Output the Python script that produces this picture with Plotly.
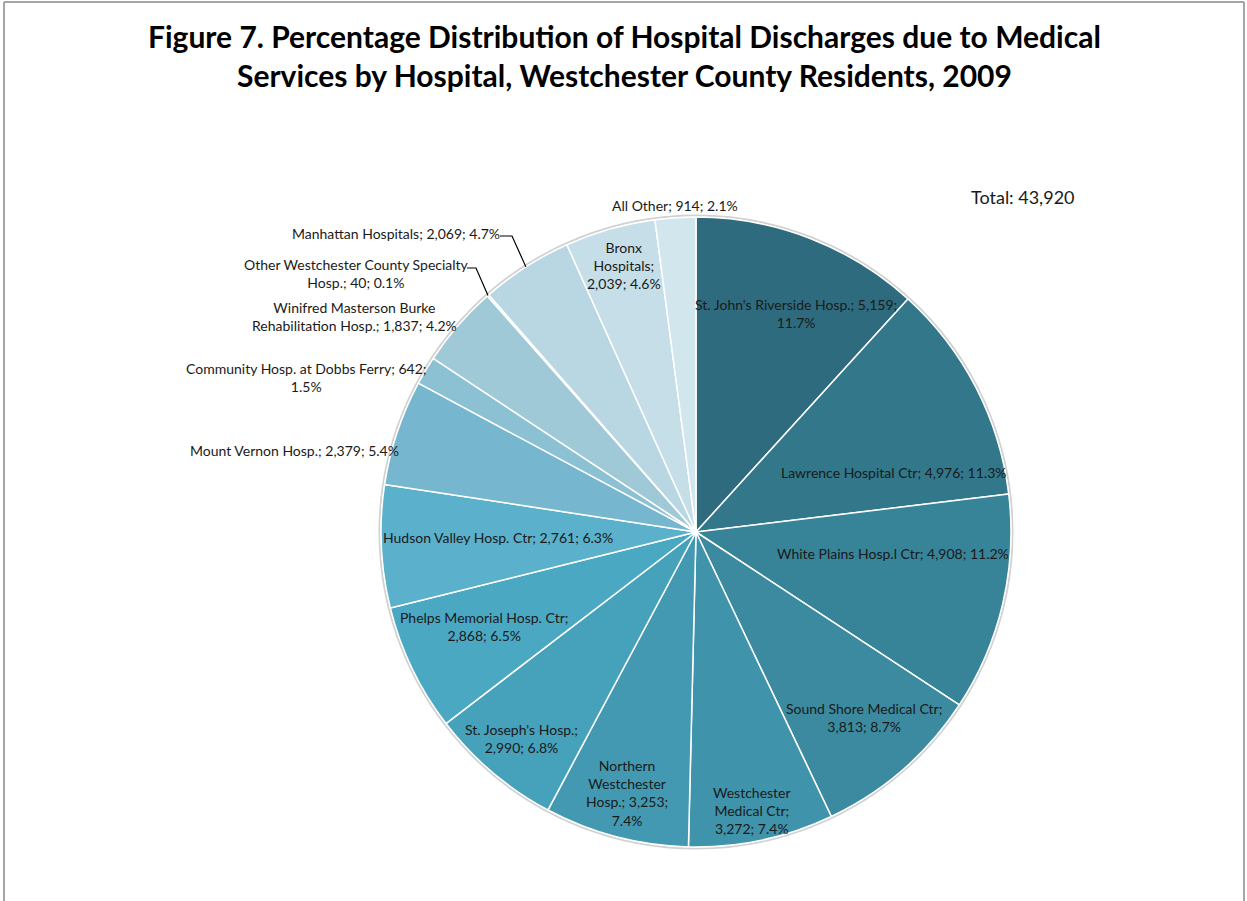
import math
import plotly.graph_objects as go

# ---------------- data ----------------
hospitals = [
    "St. John's Riverside Hosp.", "Lawrence Hospital Ctr", "White Plains Hosp.l Ctr",
    "Sound Shore Medical Ctr", "Westchester Medical Ctr", "Northern Westchester Hosp.",
    "St. Joseph's Hosp.", "Phelps Memorial Hosp. Ctr", "Hudson Valley Hosp. Ctr",
    "Mount Vernon Hosp.", "Community Hosp. at Dobbs Ferry",
    "Winifred Masterson Burke Rehabilitation Hosp.",
    "Other Westchester County Specialty Hosp.", "Manhattan Hospitals",
    "Bronx Hospitals", "All Other",
]
discharges = [5159, 4976, 4908, 3813, 3272, 3253, 2990, 2868, 2761, 2379, 642, 1837, 40, 2069, 2039, 914]
percents = [11.7, 11.3, 11.2, 8.7, 7.4, 7.4, 6.8, 6.5, 6.3, 5.4, 1.5, 4.2, 0.1, 4.7, 4.6, 2.1]
total_label = "Total: 43,920"
title_lines = ["Figure 7. Percentage Distribution of Hospital Discharges due to Medical",
               "Services by Hospital, Westchester County Residents, 2009"]

# ---------------- styles / layout ----------------
colors = ["#2E6B7E", "#32778A", "#378398", "#3C8A9F", "#3F93AA", "#4399B1",
          "#46A1BB", "#4BA8C3", "#5BB0CB", "#76B7CF", "#8CC1D4", "#A0C9D8",
          "#ADD0DD", "#B9D7E2", "#C5DEE8", "#D2E6ED"]

W, H = 1247, 901
CX, CY, R = 696, 532, 315  # pie centre / radius in pixels


def px(x):
    return x / W


def py(y):
    return 1 - y / H


# label text with manual line breaks (layout), label centres in pixels
label_lines = [
    "St. John's Riverside Hosp.; 5,159;<br>11.7%",
    "Lawrence Hospital Ctr; 4,976; 11.3%",
    "White Plains Hosp.l Ctr; 4,908; 11.2%",
    "Sound Shore Medical Ctr;<br>3,813; 8.7%",
    "Westchester<br>Medical Ctr;<br>3,272; 7.4%",
    "Northern<br>Westchester<br>Hosp.; 3,253;<br>7.4%",
    "St. Joseph's Hosp.;<br>2,990; 6.8%",
    "Phelps Memorial Hosp. Ctr;<br>2,868; 6.5%",
    "Hudson Valley Hosp. Ctr; 2,761; 6.3%",
    "Mount Vernon Hosp.; 2,379; 5.4%",
    "Community Hosp. at Dobbs Ferry; 642;<br>1.5%",
    "Winifred Masterson Burke<br>Rehabilitation Hosp.; 1,837; 4.2%",
    "Other Westchester County Specialty<br>Hosp.; 40; 0.1%",
    "Manhattan Hospitals; 2,069; 4.7%",
    "Bronx<br>Hospitals;<br>2,039; 4.6%",
    "All Other; 914; 2.1%",
]
label_pos = [(796, 313), (893, 472), (893, 553), (864, 717), (752, 810), (627, 793),
             (521, 738), (484, 626), (498, 537), (294, 450), (306, 378), (354, 316),
             (356, 274), (396, 233), (624, 265), (675, 206)]
# leader lines: index -> (start point near text, elbow point)
leaders = {12: ((467, 268), (476, 268)), 13: ((500, 236), (512, 236))}

fig = go.Figure()
fig.add_trace(go.Pie(
    labels=hospitals, values=discharges, sort=False, direction="clockwise", rotation=0,
    marker=dict(colors=colors, line=dict(color="white", width=1.5)),
    textinfo="none", hoverinfo="label+value+percent", showlegend=False,
    domain=dict(x=[px(CX - R), px(CX + R)], y=[py(CY + R), py(CY - R)]),
))

annotations = []
for text, (x, y) in zip(label_lines, label_pos):
    annotations.append(dict(x=px(x), y=py(y), xref="paper", yref="paper", text=text,
                            showarrow=False, xanchor="center", yanchor="middle",
                            font=dict(family="Lato", size=14, color="#1a1a1a")))
annotations.append(dict(x=px(1023), y=py(197), xref="paper", yref="paper", text=total_label,
                        showarrow=False, xanchor="center", yanchor="middle",
                        font=dict(family="Lato", size=18, color="#1a1a1a")))
annotations.append(dict(x=px(624), y=py(55), xref="paper", yref="paper",
                        text="<b>" + "<br>".join(title_lines) + "</b>", showarrow=False,
                        xanchor="center", yanchor="middle",
                        font=dict(family="Lato", size=30, color="#000000")))

shapes = []
# soft outline around the pie
shapes.append(dict(type="circle", xref="paper", yref="paper",
                   x0=px(CX - R - 1.5), x1=px(CX + R + 1.5), y0=py(CY + R + 1.5), y1=py(CY - R - 1.5),
                   line=dict(color="rgba(0,0,0,0.18)", width=2), layer="below"))
# leader lines computed from slice mid-angles
tot = sum(discharges)
cum = 0
mids = []
for v in discharges:
    mids.append((cum + v / 2) / tot * 2 * math.pi)
    cum += v
for i, (p0, p1) in leaders.items():
    a = mids[i]
    ex, ey = CX + R * math.sin(a), CY - R * math.cos(a)
    shapes.append(dict(type="path", xref="paper", yref="paper",
                       path=f"M {px(p0[0])},{py(p0[1])} L {px(p1[0])},{py(p1[1])} L {px(ex)},{py(ey)}",
                       line=dict(color="black", width=1.2)))
# outer frame (left, top, right)
for x0, y0, x1, y1 in [(4, 2, 4, H + 5), (4, 2, 1244, 2), (1244, 2, 1244, H + 5)]:
    shapes.append(dict(type="line", xref="paper", yref="paper",
                       x0=px(x0), y0=py(y0), x1=px(x1), y1=py(y1),
                       line=dict(color="#A6A6A6", width=2)))

fig.update_layout(width=W, height=H, margin=dict(l=0, r=0, t=0, b=0),
                  paper_bgcolor="white", plot_bgcolor="white",
                  annotations=annotations, shapes=shapes)
fig.write_html("out.html", config={"displayModeBar": False},
               post_script="document.body.style.margin='0';document.body.style.overflow='hidden';")
